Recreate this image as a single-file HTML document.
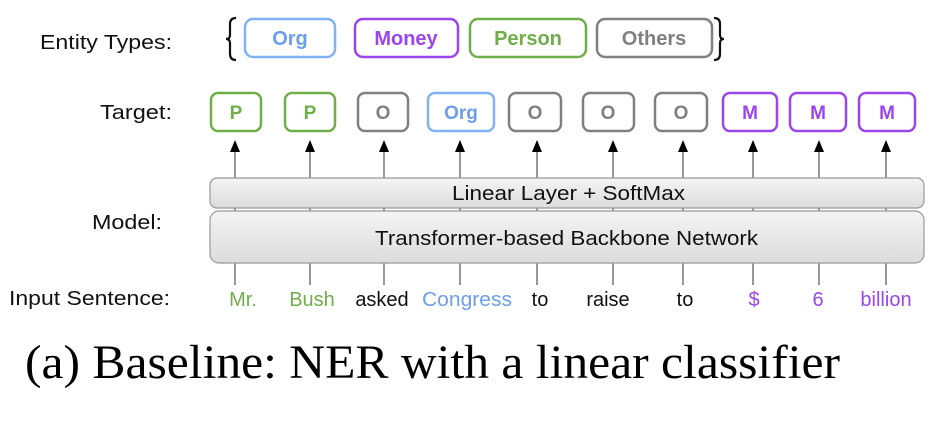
<!DOCTYPE html>
<html><head><meta charset="utf-8"><style>
html,body{margin:0;padding:0;background:#fff;}
svg{display:block;}
text{font-family:"Liberation Sans",sans-serif;}
text.serif{font-family:"Liberation Serif",serif;}
</style></head><body>
<svg width="943" height="422" viewBox="0 0 943 422" xmlns="http://www.w3.org/2000/svg">
<defs>
<linearGradient id="g" x1="0" y1="0" x2="0" y2="1"><stop offset="0" stop-color="#f4f4f4"/><stop offset="1" stop-color="#dcdcdc"/></linearGradient>
</defs>
<g font-size="20" fill="#111">
<text x="40" y="49" textLength="132" lengthAdjust="spacingAndGlyphs">Entity Types:</text>
<text x="100" y="119" textLength="72" lengthAdjust="spacingAndGlyphs">Target:</text>
<text x="92" y="229" textLength="70" lengthAdjust="spacingAndGlyphs">Model:</text>
<text x="9" y="305" textLength="161" lengthAdjust="spacingAndGlyphs">Input Sentence:</text>
</g>
<g fill="none" stroke="#111" stroke-width="2.2">
<path d="M236,18 Q230,18 230,24 L230,35 Q230,39 226,39 Q230,39 230,43 L230,54 Q230,60 236,60"/>
<path d="M714,18 Q720,18 720,24 L720,35 Q720,39 724,39 Q720,39 720,43 L720,54 Q720,60 714,60"/>
</g>
<g stroke-width="2.5" fill="#fff" font-size="20" font-weight="bold" text-anchor="middle">
<rect x="245" y="19" width="90" height="38" rx="8" stroke="#7fb3f5"/><text x="290" y="45" fill="#6d9eeb" stroke="none">Org</text>
<rect x="355" y="19" width="103" height="38" rx="8" stroke="#9b45ee"/><text x="406" y="45" fill="#9b45ee" stroke="none">Money</text>
<rect x="470" y="19" width="116" height="38" rx="8" stroke="#6fae4a"/><text x="528" y="45" fill="#6fae4a" stroke="none">Person</text>
<rect x="597" y="19" width="115" height="38" rx="8" stroke="#808080"/><text x="654" y="45" fill="#808080" stroke="none">Others</text>
</g>
<g stroke-width="2.5" fill="#fff" font-size="19" font-weight="bold" text-anchor="middle">
<rect x="211" y="93" width="50" height="38" rx="7" stroke="#6fae4a"/><text x="236" y="119" fill="#6fae4a" stroke="none">P</text>
<rect x="285" y="93" width="50" height="38" rx="7" stroke="#6fae4a"/><text x="310" y="119" fill="#6fae4a" stroke="none">P</text>
<rect x="358" y="93" width="50" height="38" rx="7" stroke="#808080"/><text x="383" y="119" fill="#808080" stroke="none">O</text>
<rect x="428" y="93" width="66" height="38" rx="7" stroke="#7fb3f5"/><text x="461" y="119" fill="#6d9eeb" stroke="none">Org</text>
<rect x="509" y="93" width="52" height="38" rx="7" stroke="#808080"/><text x="535" y="119" fill="#808080" stroke="none">O</text>
<rect x="583" y="93" width="51" height="38" rx="7" stroke="#808080"/><text x="608" y="119" fill="#808080" stroke="none">O</text>
<rect x="655" y="93" width="52" height="38" rx="7" stroke="#808080"/><text x="681" y="119" fill="#808080" stroke="none">O</text>
<rect x="723" y="93" width="54" height="38" rx="7" stroke="#9b45ee"/><text x="750" y="119" fill="#9b45ee" stroke="none">M</text>
<rect x="790" y="93" width="56" height="38" rx="7" stroke="#9b45ee"/><text x="818" y="119" fill="#9b45ee" stroke="none">M</text>
<rect x="859" y="93" width="56" height="38" rx="7" stroke="#9b45ee"/><text x="887" y="119" fill="#9b45ee" stroke="none">M</text>
</g>
<g stroke="#555" stroke-width="1.2">
<line x1="235" y1="150" x2="235" y2="285"/><line x1="310" y1="150" x2="310" y2="285"/><line x1="384" y1="150" x2="384" y2="285"/><line x1="460" y1="150" x2="460" y2="285"/><line x1="537" y1="150" x2="537" y2="285"/><line x1="613" y1="150" x2="613" y2="285"/><line x1="683" y1="150" x2="683" y2="285"/><line x1="753" y1="150" x2="753" y2="285"/><line x1="819" y1="150" x2="819" y2="285"/><line x1="886" y1="150" x2="886" y2="285"/>
</g>
<g fill="#000">
<polygon points="235,140 230,152 240,152"/><polygon points="310,140 305,152 315,152"/><polygon points="384,140 379,152 389,152"/><polygon points="460,140 455,152 465,152"/><polygon points="537,140 532,152 542,152"/><polygon points="613,140 608,152 618,152"/><polygon points="683,140 678,152 688,152"/><polygon points="753,140 748,152 758,152"/><polygon points="819,140 814,152 824,152"/><polygon points="886,140 881,152 891,152"/>
</g>
<rect x="210" y="178" width="714" height="30" rx="7" fill="url(#g)" stroke="#999" stroke-width="1.2"/>
<text x="452" y="200" font-size="20" fill="#111" textLength="233" lengthAdjust="spacingAndGlyphs">Linear  Layer + SoftMax</text>
<rect x="210" y="211" width="714" height="52" rx="9" fill="url(#g)" stroke="#999" stroke-width="1.2"/>
<text x="375" y="245" font-size="20" fill="#111" textLength="383" lengthAdjust="spacingAndGlyphs">Transformer-based Backbone Network</text>
<g font-size="20" text-anchor="middle">
<text x="243" y="306" fill="#6fae4a">Mr.</text>
<text x="312" y="306" fill="#6fae4a">Bush</text>
<text x="382" y="306" fill="#111">asked</text>
<text x="467" y="306" fill="#6d9eeb" textLength="90" lengthAdjust="spacingAndGlyphs">Congress</text>
<text x="540" y="306" fill="#111">to</text>
<text x="608" y="306" fill="#111">raise</text>
<text x="685" y="306" fill="#111">to</text>
<text x="754" y="306" fill="#9b45ee">$</text>
<text x="818" y="306" fill="#9b45ee">6</text>
<text x="886" y="306" fill="#9b45ee">billion</text>
</g>
<text class="serif" x="25" y="378" font-size="48" fill="#000" textLength="815" lengthAdjust="spacingAndGlyphs">(a) Baseline: NER with a linear classifier</text>
</svg>
</body></html>
